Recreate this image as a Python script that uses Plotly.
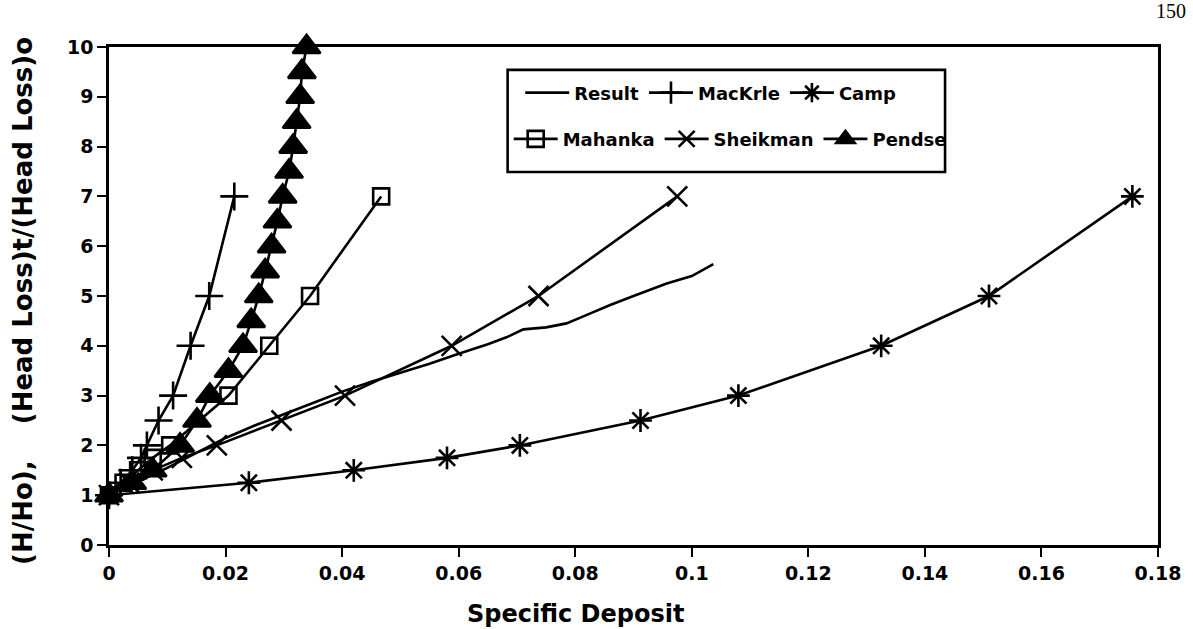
import plotly.graph_objects as go

# Specific deposit (x) vs. head-loss ratio (y) for each model
result_x = [0, 0.005, 0.01, 0.015, 0.02, 0.025, 0.03, 0.035, 0.04, 0.045, 0.05, 0.055,
            0.06, 0.065, 0.0682, 0.0711, 0.075, 0.0785, 0.082, 0.086, 0.09, 0.0957, 0.1, 0.1037]
result_y = [1, 1.28, 1.55, 1.85, 2.15, 2.4, 2.62, 2.85, 3.08, 3.28, 3.46, 3.64,
            3.84, 4.03, 4.17, 4.33, 4.37, 4.45, 4.62, 4.82, 5.0, 5.25, 5.4, 5.64]

mackrle_x = [0, 0.002, 0.004, 0.0055, 0.0065, 0.0085, 0.011, 0.014, 0.0172, 0.0215]
mackrle_y = [1, 1.25, 1.5, 1.75, 2, 2.5, 3, 4, 5, 7]

camp_x = [0, 0.024, 0.042, 0.058, 0.0705, 0.0912, 0.108, 0.1325, 0.151, 0.1756]
camp_y = [1, 1.25, 1.5, 1.75, 2, 2.5, 3, 4, 5, 7]

mahanka_x = [0, 0.0025, 0.005, 0.0075, 0.0105, 0.0205, 0.0275, 0.0345, 0.0467]
mahanka_y = [1, 1.25, 1.5, 1.75, 2, 3, 4, 5, 7]

sheikman_x = [0, 0.0035, 0.0075, 0.0125, 0.0185, 0.0296, 0.0405, 0.0588, 0.0737, 0.0975]
sheikman_y = [1, 1.25, 1.5, 1.75, 2, 2.5, 3, 4, 5, 7]

pendse_x = [0, 0.004, 0.0075, 0.0122, 0.0151, 0.0173, 0.0205, 0.023, 0.0244, 0.0257,
            0.0268, 0.0279, 0.0289, 0.0298, 0.0309, 0.0316, 0.0322, 0.0328, 0.0331, 0.0339]
pendse_y = [1, 1.25, 1.5, 2, 2.5, 3, 3.5, 4, 4.5, 5,
            5.5, 6, 6.5, 7, 7.5, 8, 8.5, 9, 9.5, 10]

x_ticks = [0, 0.02, 0.04, 0.06, 0.08, 0.1, 0.12, 0.14, 0.16, 0.18]
y_ticks = list(range(0, 11))

FONT = "DejaVu Sans"
INK = "black"
LW = 2.6

fig = go.Figure()


def add_series(name, xs, ys, legend, symbol=None, size=16):
    mode = "lines" if symbol is None else "lines+markers"
    marker = None
    if symbol is not None:
        marker = dict(symbol=symbol, size=size, color=INK,
                      line=dict(color=INK, width=LW))
    fig.add_trace(go.Scatter(
        x=xs, y=ys, name=name, mode=mode, legend=legend,
        line=dict(color=INK, width=LW), marker=marker,
        cliponaxis=False,
    ))


add_series("Result", result_x, result_y, "legend")
add_series("MacKrle", mackrle_x, mackrle_y, "legend", "cross-thin-open", 20)
add_series("Camp", camp_x, camp_y, "legend", "asterisk-open", 19)
add_series("Mahanka", mahanka_x, mahanka_y, "legend2", "square-open", 16)
add_series("Sheikman", sheikman_x, sheikman_y, "legend2", "x-thin-open", 20)
add_series("Pendse", pendse_x, pendse_y, "legend2", "triangle-up", 24)

legend_font = dict(family=FONT, size=18, color=INK, weight="bold")
common_legend = dict(orientation="h", bgcolor="rgba(0,0,0,0)", borderwidth=0,
                     font=legend_font, xanchor="left", yanchor="top",
                     itemwidth=44, tracegroupgap=0)

tick_font = dict(family=FONT, size=19, color=INK, weight="bold")

fig.update_layout(
    width=1193, height=629,
    margin=dict(l=109, r=35, t=47, b=84),
    paper_bgcolor="white", plot_bgcolor="white",
    font=dict(family=FONT, color=INK),
    showlegend=True,
    legend=dict(x=0.392, y=0.945, **common_legend),
    legend2=dict(x=0.381, y=0.852, **common_legend),
    xaxis=dict(
        range=[0, 0.18], tickvals=x_ticks, ticktext=[f"{v:g}" for v in x_ticks],
        showgrid=False, zeroline=False, showline=True, linecolor=INK, linewidth=2.6,
        mirror=True, ticks="outside", ticklen=9, tickwidth=2, tickcolor=INK,
        tickfont=tick_font,
    ),
    yaxis=dict(
        range=[0, 10], tickvals=y_ticks,
        showgrid=False, zeroline=False, showline=True, linecolor=INK, linewidth=2.6,
        mirror=True, ticks="outside", ticklen=9, tickwidth=2, tickcolor=INK,
        tickfont=tick_font,
    ),
    shapes=[dict(type="rect", xref="paper", yref="paper",
                 x0=0.380, x1=0.797, y0=0.749, y1=0.954,
                 line=dict(color=INK, width=2.6), fillcolor="rgba(0,0,0,0)")],
    annotations=[
        dict(text="Specific Deposit", xref="paper", yref="paper",
             x=0.445, y=-0.138, xanchor="center", yanchor="middle", showarrow=False,
             font=dict(family=FONT, size=24, color=INK, weight="bold")),
        dict(text="(H/Ho),    (Head Loss)t/(Head Loss)o", textangle=-90,
             xref="paper", yref="paper", x=-0.082, y=0.49,
             xanchor="center", yanchor="middle", showarrow=False,
             font=dict(family=FONT, size=26, color=INK, weight="bold")),
        dict(text="150", xref="paper", yref="paper", x=1.012, y=1.072,
             xanchor="center", yanchor="middle", showarrow=False,
             font=dict(family="Liberation Serif", size=20, color=INK)),
    ],
)

fig.write_html("out.html")
